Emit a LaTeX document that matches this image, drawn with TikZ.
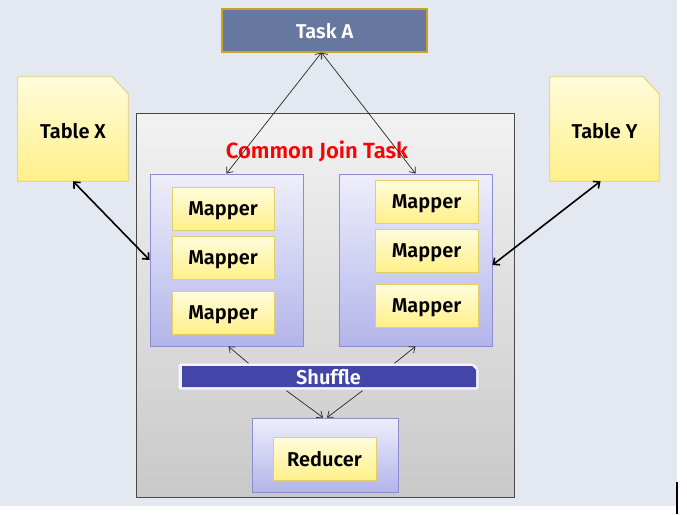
\documentclass[tikz,border=0pt]{standalone}
\usepackage{fontspec}
\setmainfont{Fira Sans}[BoldFont={* SemiBold}]
\usetikzlibrary{arrows.meta}
\definecolor{bgc}{HTML}{E4E9F1}
\definecolor{taskfill}{HTML}{6678A0}
\definecolor{taskbord}{HTML}{C9A227}
\definecolor{ytop}{HTML}{FFFCDC}
\definecolor{ybot}{HTML}{FFF08A}
\definecolor{ybord}{HTML}{E2CF68}
\definecolor{ctop}{HTML}{EEEEFC}
\definecolor{cbot}{HTML}{B3B5EA}
\definecolor{cbord}{HTML}{8A8DD0}
\definecolor{gtop}{HTML}{F2F2F2}
\definecolor{gbot}{HTML}{C9C9C9}
\definecolor{gbord}{HTML}{4A4A4A}
\definecolor{shdark}{HTML}{4345A8}
\definecolor{shlight}{HTML}{F3F4F9}
\definecolor{shbord}{HTML}{CDCFDC}
\pgfdeclarelayer{bg}
\pgfsetlayers{bg,main}
\tikzset{
  lbl/.style={font=\fontsize{20}{20}\selectfont\bfseries, text depth=0pt},
  ybox/.style={lbl, draw=ybord, top color=ytop, bottom color=ybot, line width=0.8pt, inner sep=0pt},
  cbox/.style={draw=cbord, top color=ctop, bottom color=cbot, line width=0.9pt, inner sep=0pt},
  gbox/.style={draw=gbord, top color=gtop, bottom color=gbot, line width=1pt, inner sep=0pt},
  thin arrow/.style={line width=0.7pt, draw=black!85, {Straight Barb[length=5pt,width=8pt]}-{Straight Barb[length=5pt,width=8pt]}},
  one arrow/.style={line width=0.7pt, draw=black!85, -{Straight Barb[length=5pt,width=8pt]}},
  thick arrow/.style={line width=1.6pt, {Straight Barb[length=5pt,width=9pt]}-{Straight Barb[length=5pt,width=9pt]}},
}
\begin{document}
\begin{tikzpicture}[x=1pt,y=-1pt]
\useasboundingbox (0,0) rectangle (687,514);
\begin{pgfonlayer}{bg}
\fill[bgc] (0,0) rectangle (677,506);
\end{pgfonlayer}
\draw[line width=1.2pt] (677,482) -- (677,514);

% Task A
\node[lbl, text=white, fill=taskfill, draw=taskbord, line width=1.2pt, inner sep=0pt,
      minimum width=205, minimum height=43] (ta) at (324.5,30.5) {Task A};

% Tables
\node[lbl, inner sep=0pt, minimum width=110, minimum height=104] (tx) at (73,129) {\raisebox{-4pt}{Table X}};
\node[lbl, inner sep=0pt, minimum width=109, minimum height=104] (ty) at (604.5,129) {\raisebox{-4pt}{Table Y}};
\begin{pgfonlayer}{bg}
\foreach \t in {tx,ty}{
  \draw[draw=ybord, top color=ytop, bottom color=ybot, line width=0.8pt]
    (\t.south west) -- (\t.north west) -- ([xshift=-16pt]\t.north east)
    -- ([yshift=-17pt]\t.north east) -- (\t.south east) -- cycle;
}
\end{pgfonlayer}

% Common join task box
\node[gbox, minimum width=378, minimum height=384] (cj) at (325,305) {};
\node[font=\fontsize{22}{22}\selectfont\bfseries, text depth=0pt, text=red] (title) at (317,150) {Common Join Task};

% containers
\node[cbox, minimum width=153, minimum height=172] (lc) at (226.5,260) {};
\node[cbox, minimum width=153, minimum height=172] (rc) at (415.5,260) {};
\node[cbox, minimum width=146, minimum height=74] (rdc) at (325,455) {};

% mappers
\node[ybox, minimum width=102, minimum height=43] (m1) at (223,208.5) {Mapper};
\node[ybox, minimum width=102, minimum height=43] (m2) at (223,257.5) {Mapper};
\node[ybox, minimum width=102, minimum height=43] (m3) at (223,312.5) {Mapper};
\node[ybox, minimum width=103, minimum height=43] (m4) at (426.5,201.5) {Mapper};
\node[ybox, minimum width=103, minimum height=43] (m5) at (426.5,250.5) {Mapper};
\node[ybox, minimum width=103, minimum height=43] (m6) at (426.5,305.5) {Mapper};
\node[ybox, minimum width=103, minimum height=43] (red) at (324.5,458.5) {Reducer};

% Shuffle bar
\draw[fill=shlight, draw=shbord, line width=0.8pt, rounded corners=2pt]
  (178,363) -- (474,363) -- (479,368) -- (479,390) -- (178,390) -- cycle;
\fill[shdark] (182,366) -- (472,366) -- (476,370) -- (476,387) -- (182,387) -- cycle;
\node[lbl, text=white, inner sep=0pt, minimum width=301, minimum height=27] (sh) at (328.5,377) {Shuffle};

% connectors
\draw[thin arrow] ([xshift=-3pt]ta.south) -- (lc.north);
\draw[thin arrow] ([xshift=-3pt]ta.south) -- (rc.north);
\draw[thick arrow] (tx.south) -- (lc.west);
\draw[thick arrow] ([xshift=-4pt]ty.south) -- ([yshift=-5pt]rc.east);
\draw[one arrow] ([xshift=-80pt]sh.north) -- ([xshift=2pt]lc.south);
\draw[one arrow] ([xshift=66pt]sh.north) -- (rc.south);
\draw[one arrow] ([xshift=-42pt]sh.south) -- ([xshift=-2pt]rdc.north);
\draw[one arrow] ([xshift=34pt]sh.south) -- ([xshift=2pt]rdc.north);
\end{tikzpicture}
\end{document}
